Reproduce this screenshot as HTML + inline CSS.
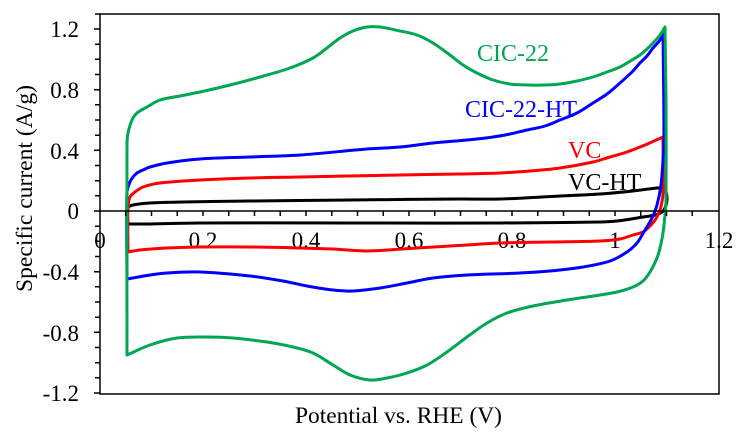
<!DOCTYPE html>
<html>
<head>
<meta charset="utf-8">
<style>
html,body{margin:0;padding:0;background:#fff;}
svg{display:block;}
text{font-family:"Liberation Serif","Times New Roman",serif;}
</style>
</head>
<body>
<svg width="747" height="442" viewBox="0 0 747 442" xmlns="http://www.w3.org/2000/svg">
<rect width="747" height="442" fill="#fff"/>

<!-- tick labels Y -->
<g font-size="23" text-anchor="end" fill="#000">
<text x="79" y="37">1.2</text>
<text x="79" y="98">0.8</text>
<text x="79" y="159">0.4</text>
<text x="79" y="219">0</text>
<text x="79" y="280">-0.4</text>
<text x="79" y="341">-0.8</text>
<text x="79" y="401">-1.2</text>
</g>
<!-- tick labels X -->
<g font-size="23" text-anchor="middle" fill="#000">
<text x="100" y="248">0</text>
<text x="203" y="248">0.2</text>
<text x="306" y="248">0.4</text>
<text x="409" y="248">0.6</text>
<text x="512" y="248">0.8</text>
<text x="615" y="248">1</text>
<text x="719" y="248">1.2</text>
</g>

<!-- axis titles -->
<text x="295" y="423" font-size="23" textLength="207" lengthAdjust="spacingAndGlyphs">Potential vs. RHE (V)</text>
<text transform="translate(32,188.5) rotate(-90)" x="0" y="0" font-size="23" text-anchor="middle" textLength="207" lengthAdjust="spacingAndGlyphs">Specific current (A/g)</text>

<!-- series -->
<g fill="none" stroke-width="3" stroke-linejoin="round" stroke-linecap="round">
<path id="sBlack" stroke="#000" d="M128,224 L128,208 L133,205 L150,203 L183,202 L250,201 L350,200 L460,199 L500,199 L560,196 L600,194 L633,191 L657,188 L663,188 L666,192 L667,200 L665,208 L662,212 L655,215 L643,217 L617,221 L600,222 L500,223 L200,223 L150,224 L128,224 Z"/>
<path id="sRed" stroke="#ff0000" d="M128,252 L128,207 L130,197 L135,192 L143,187 L160,183 L200,180 L250,178 L300,177 L400,175 L460,174 L500,173 L530,171 L560,168 L593,162 L610,157 L627,152 L645,145 L663,137 L663,193 L660,210 L655,220 L648,228 L643,232 L633,235 L620,239 L600,241 L550,242 L500,243 L467,245 L417,248 L367,251 L333,249 L300,248 L250,247 L200,247 L167,248 L140,250 L128,252 Z"/>
<path id="sBlue" stroke="#0000ff" d="M127,279 L127,192 L130,182 L133,177 L137,173 L143,170 L150,167 L167,163 L200,159 L250,157 L300,155 L367,149 L400,147 L433,143 L467,140 L493,137 L510,134 L527,130 L545,126 L560,120 L577,113 L593,103 L607,94 L620,83 L632,72 L640,63 L647,56 L653,48 L660,40 L663,33 L664,140 L663,160 L661,185 L657,205 L652,218 L645,230 L637,243 L627,252 L610,261 L583,267 L550,271 L520,273 L467,275 L433,278 L407,283 L380,288 L353,291 L333,290 L307,286 L283,281 L250,276 L200,272 L167,273 L150,275 L133,278 L127,279 Z"/>
<path id="sGreen" stroke="#00a651" d="M127,355 L127,143 L128,133 L132,120 L137,113 L147,107 L160,100 L180,96 L200,92 L230,85 L260,77 L290,68 L313,58 L327,48 L340,38 L353,31 L367,27 L380,27 L400,31 L417,35 L433,43 L450,55 L463,65 L477,73 L493,80 L510,84 L527,85 L545,85 L560,84 L577,81 L593,77 L607,72 L620,67 L632,60 L640,55 L647,49 L653,43 L660,35 L665,27 L666,100 L666,200 L665,215 L663,233 L660,248 L657,258 L650,272 L643,281 L633,287 L617,292 L600,295 L567,300 L533,306 L507,313 L487,323 L467,337 L447,352 L427,365 L407,373 L387,378 L370,380 L350,375 L333,365 L313,353 L293,347 L267,342 L233,338 L207,337 L177,338 L150,345 L127,355 Z"/>
</g>

<!-- series labels -->
<g font-size="24">
<text x="477" y="61" fill="#00a651">CIC-22</text>
<text x="465" y="117" fill="#0000ff">CIC-22-HT</text>
<text x="568" y="158" fill="#ff0000">VC</text>
<text x="568" y="190" fill="#000">VC-HT</text>
</g>

<!-- axes -->
<g stroke="#000" stroke-width="1.5" fill="none">
<rect x="100" y="14" width="619" height="380"/>
<line x1="100" y1="211" x2="719" y2="211"/>
</g>
<g stroke="#000" stroke-width="1.5">
<path d="M125.75,211v5 M151.5,211v5 M177.25,211v5 M203,211v5 M228.75,211v5 M254.5,211v5 M280.25,211v5 M306,211v5 M331.75,211v5 M357.5,211v5 M383.25,211v5 M409,211v5 M434.75,211v5 M460.5,211v5 M486.25,211v5 M512,211v5 M537.75,211v5 M563.5,211v5 M589.25,211v5 M615,211v5 M640.75,211v5 M666.5,211v5 M692.25,211v5"/>
<path d="M95,14h5 M94,29h6 M95,44.2h5 M95,59.3h5 M95,74.5h5 M94,89.7h6 M95,104.8h5 M95,120h5 M95,135.2h5 M94,150.3h6 M95,165.5h5 M95,180.7h5 M95,195.8h5 M94,211h6 M95,226.2h5 M95,241.3h5 M95,256.5h5 M94,271.7h6 M95,286.8h5 M95,302h5 M95,317.2h5 M94,332.3h6 M95,347.5h5 M95,362.7h5 M95,377.8h5 M94,393h6"/>
</g>
</svg>
<script>
(function(){
  function parse(s){return s.trim().split(/\s+/).map(function(p){return p.split(',').map(Number);});}
  function unit(a,b){var dx=b[0]-a[0],dy=b[1]-a[1],l=Math.sqrt(dx*dx+dy*dy)||1;return [dx/l,dy/l];}
  function smooth(runs){
    var d='';
    runs.forEach(function(pts,ri){
      if(ri===0) d+='M'+pts[0][0]+','+pts[0][1];
      for(var i=0;i<pts.length-1;i++){
        var p0=pts[i-1]||pts[i],p1=pts[i],p2=pts[i+1],p3=pts[i+2]||pts[i+1];
        var dx=p2[0]-p1[0],dy=p2[1]-p1[1],L=Math.sqrt(dx*dx+dy*dy)/3;
        var t1=unit(p0,p2),t2=unit(p1,p3);
        var c1=[p1[0]+t1[0]*L,p1[1]+t1[1]*L],c2=[p2[0]-t2[0]*L,p2[1]-t2[1]*L];
        d+='C'+c1[0].toFixed(2)+','+c1[1].toFixed(2)+' '+c2[0].toFixed(2)+','+c2[1].toFixed(2)+' '+p2[0]+','+p2[1];
      }
    });
    return d+'Z';
  }
  var data={
    sBlack:[ "128,224 128,208 133,205 150,203 183,202 250,201 350,200 460,199 500,199 560,196 600,194 633,191 657,188 663,188 666,192 667,200 665,208 662,212 655,215 643,217 617,221 600,222 500,223 200,223 150,224 128,224" ],
    sRed:[ "128,252 128,207 130,197 135,192 143,187 160,183 200,180 250,178 300,177 400,175 460,174 500,173 530,171 560,168 593,162 610,157 627,152 645,145 663,137",
           "663,137 663,193 660,210 655,220 648,228 643,232 633,235 620,239 600,241 550,242 500,243 467,245 417,248 367,251 333,249 300,248 250,247 200,247 167,248 140,250 128,252" ],
    sBlue:[ "127,279 127,192 130,182 133,177 137,173 143,170 150,167 167,163 200,159 250,157 300,155 367,149 400,147 433,143 467,140 493,137 510,134 527,130 545,126 560,120 577,113 593,103 607,94 620,83 632,72 640,63 647,56 653,48 660,40 663,33",
            "663,33 664,140 663,160 661,185 657,205 652,218 645,230 637,243 627,252 610,261 583,267 550,271 520,273 467,275 433,278 407,283 380,288 353,291 333,290 307,286 283,281 250,276 200,272 167,273 150,275 133,278 127,279" ],
    sGreen:[ "127,355 127,143 128,133 132,120 137,113 147,107 160,100 180,96 200,92 230,85 260,77 290,68 313,58 327,48 340,38 353,31 367,27 380,27 400,31 417,35 433,43 450,55 463,65 477,73 493,80 510,84 527,85 545,85 560,84 577,81 593,77 607,72 620,67 632,60 640,55 647,49 653,43 660,35 665,27",
             "665,27 666,100 666,200 665,215 663,233 660,248 657,258 650,272 643,281 633,287 617,292 600,295 567,300 533,306 507,313 487,323 467,337 447,352 427,365 407,373 387,378 370,380 350,375 333,365 313,353 293,347 267,342 233,338 207,337 177,338 150,345 127,355" ]
  };
  try{
    for(var k in data){
      var el=document.getElementById(k);
      if(el) el.setAttribute('d',smooth(data[k].map(parse)));
    }
  }catch(e){}
})();
</script>
</body>
</html>
